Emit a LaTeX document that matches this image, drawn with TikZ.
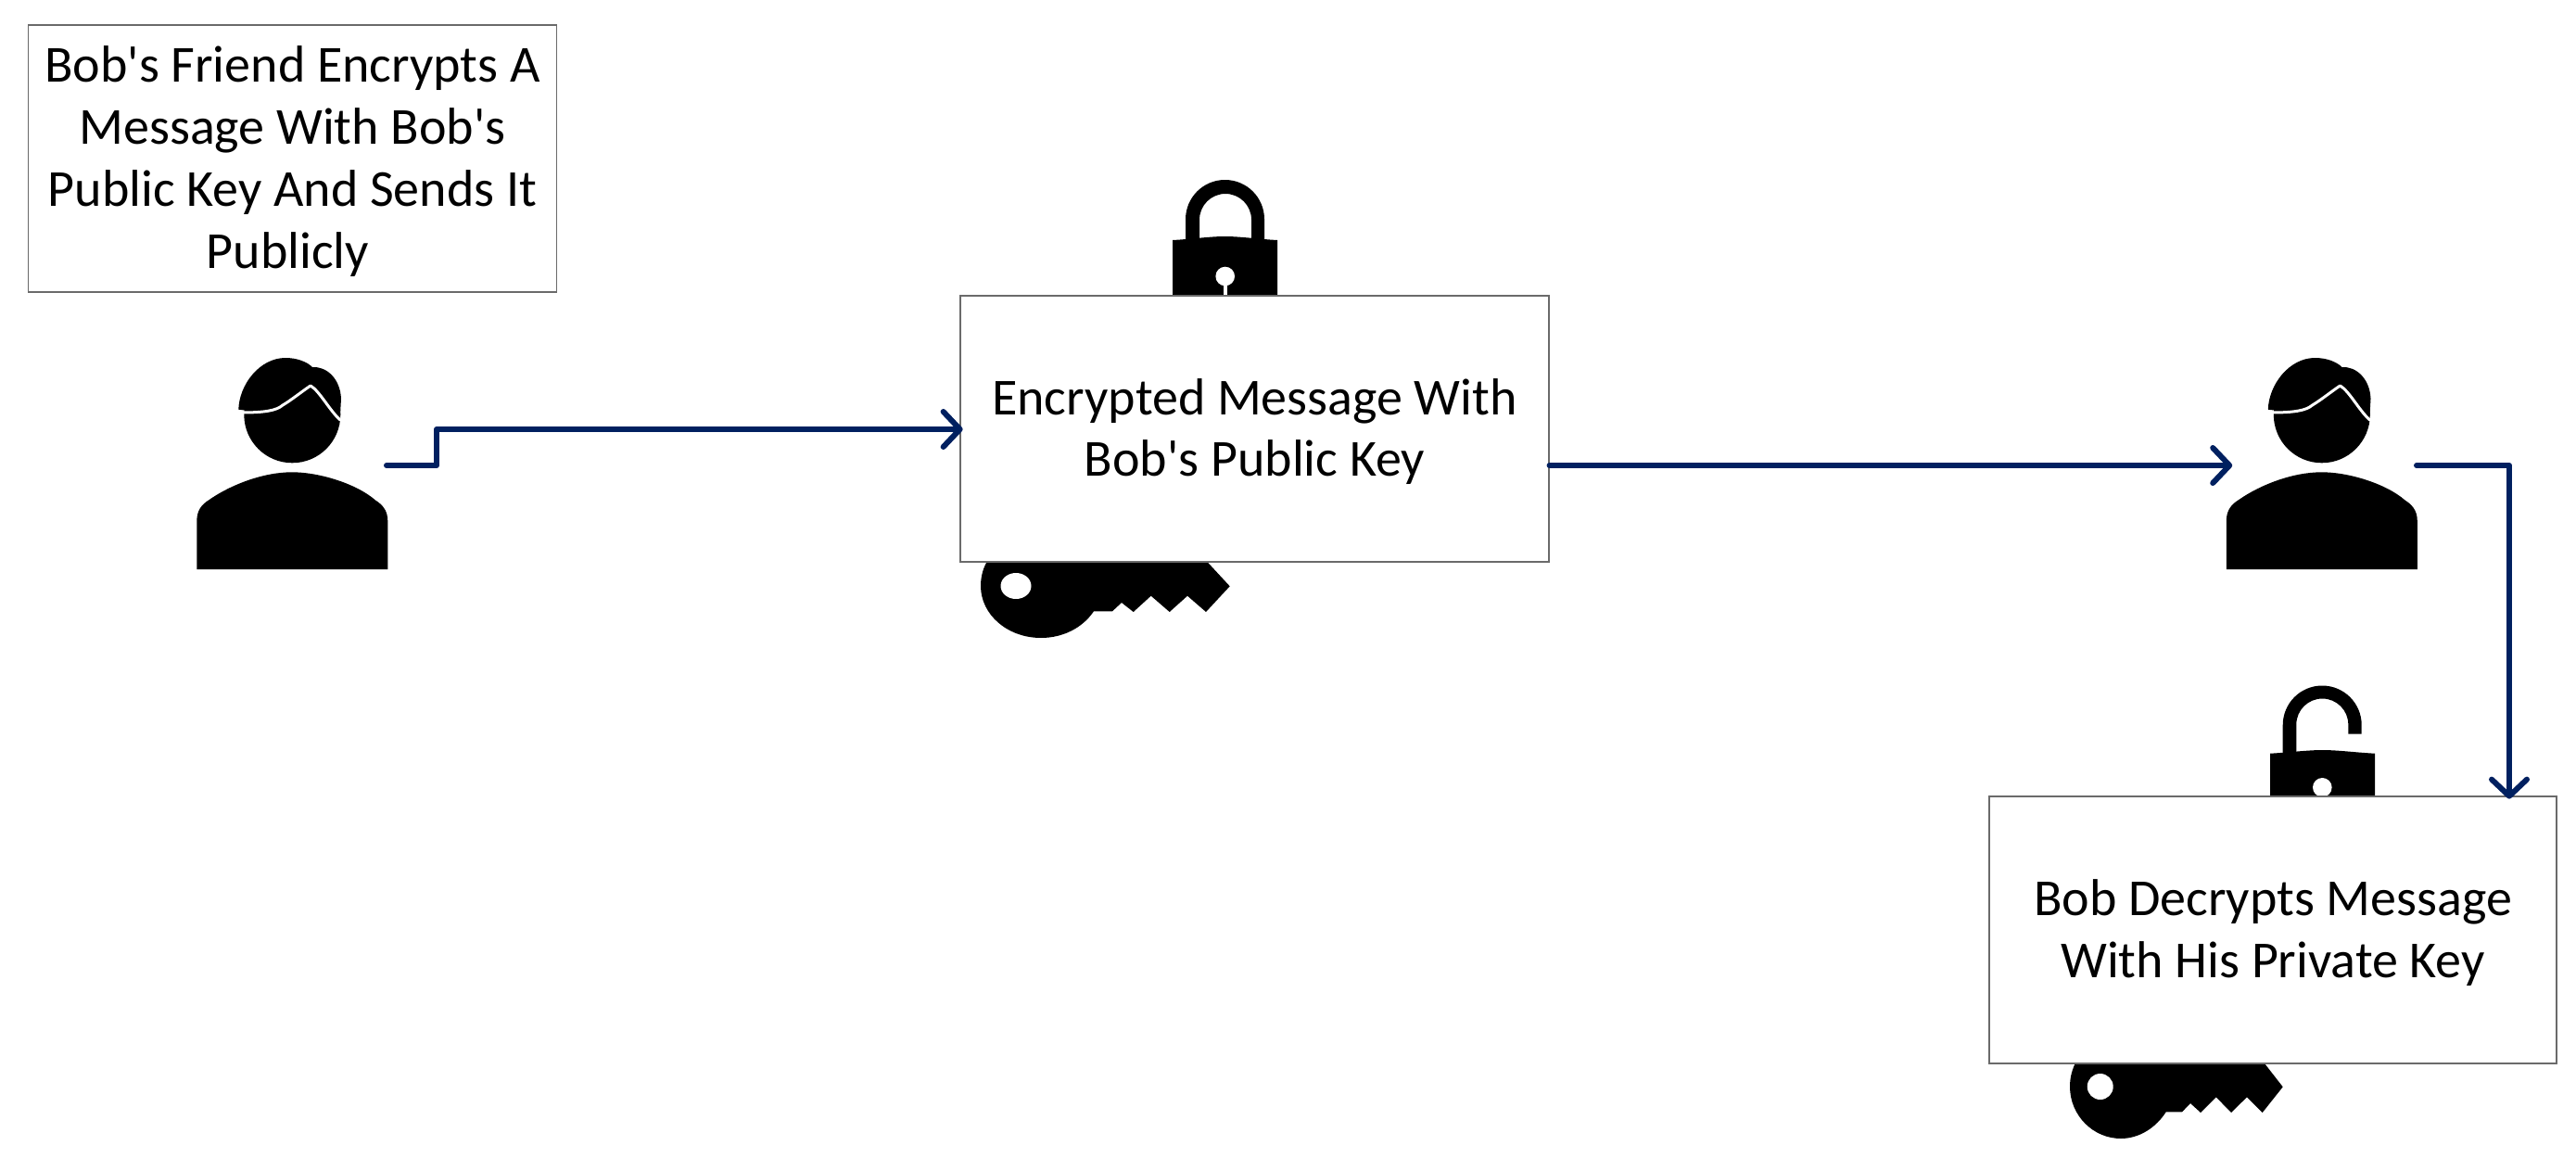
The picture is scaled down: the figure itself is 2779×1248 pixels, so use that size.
\documentclass[tikz,border=0pt]{standalone}
\usepackage{fontspec}
\setmainfont{Carlito}[Ligatures=TeXOff]
\usetikzlibrary{arrows.meta,calc}
\definecolor{navy}{HTML}{002060}
\definecolor{boxline}{HTML}{6A6A6A}
\newcommand{\tstrut}{\rule{0pt}{22.6pt}}
\tikzset{
  textbox/.style={draw=boxline,line width=0.55pt,fill=white,inner sep=0pt,align=center,text=black,font=\fontsize{28}{33.4}\selectfont},
  conn/.style={draw=navy,line width=3pt,line cap=round,line join=round},
  tip/.style={-{Straight Barb[length=9pt,width=19pt,line width=3pt,round]},shorten >=-1.6pt},
  glyph/.style={fill=black,draw=none},
}
\newcommand{\personshape}[1]{%
\begin{scope}[shift={(#1,0)}]
  \fill[glyph] (315.3,447.3) circle [radius=52];
  \fill[glyph] (257.3,441.7) .. controls (258,415) and (280,386) .. (308,386)
     .. controls (320,386) and (331,390) .. (337,396)
     .. controls (352,395) and (367,408) .. (368,430)
     -- (367,447) -- (300,447) -- cycle;
  \draw[white,line width=1.5pt,line cap=round,line join=round]
     (260,445) .. controls (285,445) and (298,443) .. (305,437)
     .. controls (315,431) and (326,422) .. (335,416)
     .. controls (345,422) and (355,442) .. (367,453);
  \fill[glyph] (212.3,614) -- (212.3,562) .. controls (212.3,550) and (218,544) .. (225,539.5)
     .. controls (250,522) and (285,509.3) .. (315,509.3)
     .. controls (345,509.3) and (385,522) .. (405,539.5)
     .. controls (412,544) and (418.3,550) .. (418.3,562)
     -- (418.3,614) -- cycle;
\end{scope}}
\begin{document}
\begin{tikzpicture}[x=0.5pt,y=-0.5pt]
\useasboundingbox (0,0) rectangle (2779,1248);
\fill[white] (0,0) rectangle (2779,1248);
% people
\personshape{0}
\personshape{2189.5}
% closed lock
\fill[glyph] (1265,325) -- (1265,259) .. controls (1285,258) and (1305,255) .. (1321.5,255) .. controls (1338,255) and (1358,258) .. (1378,259) -- (1378,325) -- cycle;
\fill[glyph] (1279,262) -- (1279,236.5) arc[start angle=180,end angle=360,radius=42.5] -- (1364,262) -- (1350,262) -- (1350,237) arc[start angle=360,end angle=180,radius=28] -- (1294,262) -- cycle;
\fill[white] (1321.7,298) circle [radius=10.3];
\fill[white] (1319.5,298) rectangle (1324,325);
% closed-lock key
\fill[glyph] (1123,688) .. controls (1087,688) and (1058,663) .. (1058,632) .. controls (1058,610) and (1070,592) .. (1090,585)
   -- (1280,585) -- (1303,606.7) -- (1326.7,632.3) -- (1301,660) -- (1281,642.7) -- (1261.7,660) -- (1241.7,642.7) -- (1222.7,660) -- (1210,650) -- (1200,659.3) -- (1180,659.3)
   .. controls (1168,677) and (1147,688) .. (1123,688) -- cycle;
\fill[white] (1096,632) ellipse [x radius=16.5,y radius=14];
% open lock
\fill[glyph] (2449,865) -- (2449,812.7) .. controls (2469,811.7) and (2489,809) .. (2505.5,809) .. controls (2522,809) and (2542,811.7) .. (2562,812.7) -- (2562,865) -- cycle;
\fill[glyph] (2462.7,815) -- (2462.7,782) arc[start angle=180,end angle=360,radius=42.5] -- (2547.7,791.7) -- (2533.3,791.7) -- (2533.3,781.5) arc[start angle=360,end angle=180,radius=28] -- (2477.3,815) -- cycle;
\fill[white] (2505.3,849.3) circle [radius=10.3];
% open-lock key
\fill[glyph] (2288,1228) .. controls (2258,1228) and (2233,1203) .. (2233,1172) .. controls (2233,1152) and (2243,1135) .. (2258,1125)
   -- (2425,1125) -- (2443,1147) -- (2462.7,1172.3) -- (2440.7,1200) -- (2424,1183.3) -- (2407,1200) -- (2390.7,1183.3) -- (2374,1200) -- (2363,1190) -- (2354,1199.3) -- (2336.7,1199.3)
   .. controls (2326,1216) and (2308,1228) .. (2288,1228) -- cycle;
\fill[white] (2265.7,1172) circle [radius=14];
% boxes
\node[textbox,minimum width=285pt,minimum height=144pt] (b1) at (315.5,171) {\tstrut Bob's Friend Encrypts A\\Message With Bob's\\Public Key And Sends It\\Publicly\hspace*{5pt}};
\node[textbox,minimum width=317.5pt,minimum height=143.5pt] (b2) at (1353.5,462.5) {\tstrut Encrypted Message With\\Bob's Public Key};
\node[textbox,minimum width=306pt,minimum height=144pt] (b3) at (2452,1003) {\tstrut Bob Decrypts Message\\With His Private Key};
% connector ends
\coordinate (p1r) at (417,502);
\coordinate (p2l) at (2405,502);
\coordinate (p2r) at (2607,502);
\coordinate (b2in) at (b2.west |- 471,463);
\coordinate (b2out) at (b2.east |- p1r);
\coordinate (b3in) at (2707,0 |- b3.north);
\draw[conn,tip] (p1r) -- (471,502) -- (471,463) -- (b2in);
\draw[conn,tip] (b2out) -- (p2l);
\draw[conn,tip] (p2r) -| (b3in);
\end{tikzpicture}
\end{document}
